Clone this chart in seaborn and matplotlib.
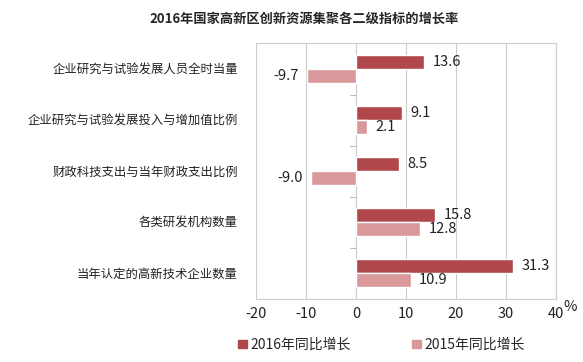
import pandas as pd
import numpy as np
import matplotlib.pyplot as plt
import seaborn as sns

categories = [
    "企业研究与试验发展人员全时当量",
    "企业研究与试验发展投入与增加值比例",
    "财政科技支出与当年财政支出比例",
    "各类研发机构数量",
    "当年认定的高新技术企业数量",
]
growth_2016 = [13.6, 9.1, 8.5, 15.8, 31.3]
growth_2015 = [-9.7, 2.1, -9.0, 12.8, 10.9]
series_names = ["2016年同比增长", "2015年同比增长"]
x_ticks = [-20, -10, 0, 10, 20, 30, 40]

sns.set_style("white")
plt.rcParams["font.family"] = ["Noto Sans CJK SC", "DejaVu Sans"]

df = pd.DataFrame({
    "category": categories * 2,
    "value": growth_2016 + growth_2015,
    "series": [series_names[0]] * len(categories) + [series_names[1]] * len(categories),
})

colors = ["#B0474A", "#D9999A"]

fig = plt.figure(figsize=(5.83, 3.62), dpi=100)
ax = fig.add_axes([0.439, 0.174, 0.515, 0.707])

sns.barplot(
    data=df, x="value", y="category", hue="series", orient="h",
    palette=colors, width=0.56, ax=ax, saturation=1, legend=True
)

# 数据标签
for cont in ax.containers:
    for bar in cont:
        w = bar.get_width()
        yc = bar.get_y() + bar.get_height() / 2
        if w >= 0:
            ax.text(w + 1.7, yc, f"{w:.1f}", va="center", ha="left", fontsize=10.5, color="#222222")
        else:
            ax.text(w - 1.7, yc, f"{w:.1f}", va="center", ha="right", fontsize=10.5, color="#222222")

ax.set_xlim(-20, 40)
ax.set_xticks(x_ticks)
ax.set_xticklabels([str(t) for t in x_ticks], fontsize=10.5, color="#222222")
ax.tick_params(axis="x", length=0, pad=6)
ax.tick_params(axis="y", length=0, pad=13, labelsize=8.9, colors="#222222")
ax.set_xlabel("")
ax.set_ylabel("")
ax.xaxis.grid(True, color="#CCCCCC", linewidth=0.8)
ax.set_axisbelow(True)
for s in ax.spines.values():
    s.set_color("#CCCCCC")
    s.set_linewidth(0.8)

# 类别分隔短刻度（零轴上）
n = len(categories)
for b in np.arange(0.5, n - 0.5, 1.0):
    ax.plot([-1.2, 0], [b, b], color="#BBBBBB", linewidth=0.8, zorder=0)

ax.text(1.047, -0.005, "%", transform=ax.transAxes, fontsize=10.5, color="#222222", va="top", ha="center")

fig.text(0.521, 0.947, "2016年国家高新区创新资源集聚各二级指标的增长率",
         ha="center", va="center", fontsize=9.5, fontweight="bold")

ax.legend_.remove()
handles = [plt.Rectangle((0, 0), 1, 1, color=c) for c in colors]
fig.legend(handles, series_names, loc="center", bbox_to_anchor=(0.655, 0.047), ncol=2,
           frameon=False, fontsize=10, handlelength=0.6, handleheight=0.6,
           handletextpad=0.3, columnspacing=4.4)

fig.savefig("out.png", dpi=100)
